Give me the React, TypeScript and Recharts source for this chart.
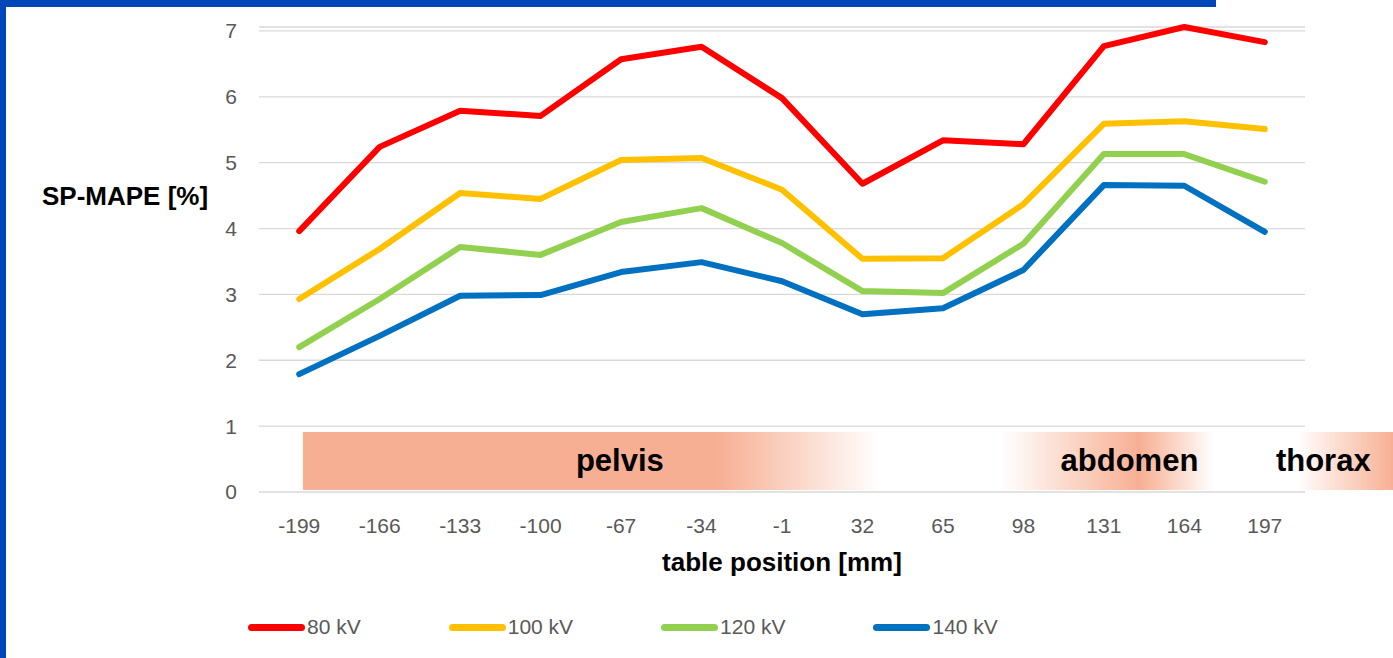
import React from "react";
import {
  LineChart,
  Line,
  XAxis,
  YAxis,
  CartesianGrid,
  ReferenceArea,
  ReferenceDot,
} from "recharts";

const positions = [-199, -166, -133, -100, -67, -34, -1, 32, 65, 98, 131, 164, 197];
const kv80 = [3.96, 5.24, 5.79, 5.71, 6.57, 6.76, 5.98, 4.68, 5.34, 5.28, 6.77, 7.06, 6.83];
const kv100 = [2.93, 3.69, 4.54, 4.45, 5.04, 5.07, 4.59, 3.54, 3.55, 4.37, 5.59, 5.63, 5.51];
const kv120 = [2.2, 2.93, 3.72, 3.6, 4.1, 4.31, 3.78, 3.05, 3.02, 3.77, 5.13, 5.13, 4.71];
const kv140 = [1.79, 2.37, 2.98, 2.99, 3.34, 3.49, 3.2, 2.7, 2.79, 3.37, 4.66, 4.65, 3.95];
const yTicks = [0, 1, 2, 3, 4, 5, 6, 7];
const yDomainMax = 7.06;

const seriesNames = ["80 kV", "100 kV", "120 kV", "140 kV"];
const seriesKeys = ["kv80", "kv100", "kv120", "kv140"];
const seriesColors = ["#FF0000", "#FFC000", "#92D050", "#0070C0"];

// anatomical regions: [name, start mm, end mm, label position mm]
const regionNames = ["pelvis", "abdomen", "thorax"];
const regionStart = [-197.5, 89, 210];
const regionEnd = [39, 176, 250];
const regionLabelPos = [-67.5, 141.5, 221];
const regionBottom = 0.03;
const regionTop = 0.91;
const regionLabelY = 0.48;

const data = positions.map((p, i) => ({
  pos: p,
  kv80: kv80[i],
  kv100: kv100[i],
  kv120: kv120[i],
  kv140: kv140[i],
}));

const SALMON = "#F7AF93";
const FONT = "Liberation Sans, Arial, sans-serif";
const tickFont = { fontFamily: FONT, fontSize: 21, fill: "#595959" };

export default function App() {
  return (
    <div
      style={{
        position: "fixed",
        left: 0,
        top: 0,
        width: 1393,
        height: 658,
        background: "#FFFFFF",
        overflow: "hidden",
      }}
    >
      <LineChart
        width={1393}
        height={658}
        data={data}
        margin={{ top: 27, right: 88, bottom: 106, left: 0 }}
      >
        <defs>
          <linearGradient id="gPelvis" x1="0" y1="0" x2="1" y2="0">
            <stop offset="0" stopColor={SALMON} stopOpacity={1} />
            <stop offset="0.72" stopColor={SALMON} stopOpacity={1} />
            <stop offset="1" stopColor={SALMON} stopOpacity={0} />
          </linearGradient>
          <linearGradient id="gAbdomen" x1="0" y1="0" x2="1" y2="0">
            <stop offset="0" stopColor={SALMON} stopOpacity={0} />
            <stop offset="0.65" stopColor={SALMON} stopOpacity={1} />
            <stop offset="1" stopColor={SALMON} stopOpacity={0} />
          </linearGradient>
          <linearGradient id="gThorax" x1="0" y1="0" x2="1" y2="0">
            <stop offset="0" stopColor={SALMON} stopOpacity={0} />
            <stop offset="1" stopColor={SALMON} stopOpacity={1} />
          </linearGradient>
        </defs>
        <CartesianGrid vertical={false} stroke="#D9D9D9" strokeWidth={1.3} />
        <XAxis
          dataKey="pos"
          type="number"
          domain={[-215.5, 213.5]}
          ticks={positions}
          allowDataOverflow
          axisLine={false}
          tickLine={false}
          tickSize={0}
          tickMargin={26}
          height={60}
          tick={tickFont}
          interval={0}
          label={{
            value: "table position [mm]",
            position: "bottom",
            offset: 1,
            style: {
              fontFamily: FONT,
              fontSize: 26,
              fontWeight: "bold",
              fill: "#000000",
            },
          }}
        />
        <YAxis
          domain={[0, yDomainMax]}
          ticks={yTicks}
          width={259}
          axisLine={false}
          tickLine={false}
          tickSize={0}
          tickMargin={22}
          tick={tickFont}
        />
        {regionNames.map((name, i) => (
          <ReferenceArea
            key={name}
            x1={regionStart[i]}
            x2={regionEnd[i]}
            y1={regionBottom}
            y2={regionTop}
            fill={`url(#g${name.charAt(0).toUpperCase() + name.slice(1)})`}
            fillOpacity={1}
            stroke="none"
            ifOverflow="visible"
          />
        ))}
        {seriesKeys.map((k, i) => (
          <Line
            key={k}
            type="linear"
            dataKey={k}
            name={seriesNames[i]}
            stroke={seriesColors[i]}
            strokeWidth={6}
            strokeLinecap="round"
            strokeLinejoin="round"
            dot={false}
            activeDot={false}
            isAnimationActive={false}
          />
        ))}
        {regionNames.map((name, i) => (
          <ReferenceDot
            key={"lbl" + name}
            x={regionLabelPos[i]}
            y={regionLabelY}
            r={0}
            fill="none"
            stroke="none"
            ifOverflow="visible"
            label={{
              value: name,
              position: "center",
              style: {
                fontFamily: FONT,
                fontSize: 31,
                fontWeight: "bold",
                fill: "#000000",
              },
            }}
          />
        ))}
      </LineChart>

      {/* frame */}
      <div style={{ position: "absolute", left: 0, top: 0, width: 1216, height: 7, background: "#0048BA" }} />
      <div style={{ position: "absolute", left: 0, top: 0, width: 6, height: 658, background: "#0048BA" }} />

      {/* y axis title */}
      <div
        style={{
          position: "absolute",
          left: 42,
          top: 181,
          fontFamily: FONT,
          fontSize: 26,
          fontWeight: "bold",
          color: "#000000",
          whiteSpace: "nowrap",
        }}
      >
        SP-MAPE [%]
      </div>

      {/* legend */}
      <div
        style={{
          position: "absolute",
          left: 248,
          top: 615,
          display: "flex",
          gap: 88,
          alignItems: "center",
          fontFamily: FONT,
          fontSize: 21,
          color: "#595959",
        }}
      >
        {seriesNames.map((n, i) => (
          <div key={n} style={{ display: "flex", alignItems: "center" }}>
            <div style={{ width: 57, height: 7, borderRadius: 4, background: seriesColors[i] }} />
            <span style={{ marginLeft: 2 }}>{n}</span>
          </div>
        ))}
      </div>
    </div>
  );
}
